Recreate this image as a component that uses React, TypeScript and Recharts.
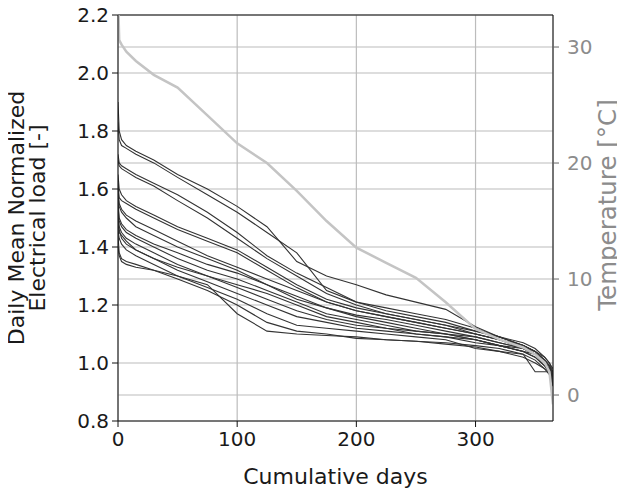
import React from 'react';
import { LineChart, Line, XAxis, YAxis, CartesianGrid, ReferenceLine, Label } from 'recharts';

const days = [0, 1, 3, 7, 15, 30, 50, 75, 100, 125, 150, 175, 200, 225, 250, 275, 300, 320, 340, 350, 358, 362, 365];

const temperature = [34.5, 30.6, 30.2, 29.6, 28.8, 27.6, 26.5, 24.1, 21.7, 20.0, 17.6, 15.0, 12.7, 11.4, 10.1, 8.0, 5.7, 4.8, 4.1, 3.5, 2.8, 2.0, -0.8];

const load01 = [1.90, 1.80, 1.77, 1.75, 1.73, 1.70, 1.65, 1.60, 1.54, 1.47, 1.35, 1.30, 1.27, 1.235, 1.21, 1.185, 1.125, 1.09, 1.06, 1.04, 1.01, 0.99, 0.95];
const load02 = [1.83, 1.77, 1.75, 1.74, 1.72, 1.69, 1.64, 1.58, 1.52, 1.45, 1.38, 1.25, 1.21, 1.19, 1.17, 1.15, 1.12, 1.09, 1.06, 1.03, 1.00, 0.98, 0.93];
const load03 = [1.72, 1.69, 1.68, 1.67, 1.65, 1.62, 1.58, 1.52, 1.45, 1.37, 1.31, 1.26, 1.21, 1.18, 1.16, 1.14, 1.11, 1.09, 1.06, 1.04, 1.01, 0.99, 0.96];
const load04 = [1.70, 1.68, 1.67, 1.66, 1.64, 1.61, 1.56, 1.50, 1.43, 1.36, 1.30, 1.24, 1.20, 1.17, 1.15, 1.13, 1.10, 1.08, 1.05, 1.03, 1.00, 0.98, 0.97];
const load05 = [1.65, 1.60, 1.58, 1.56, 1.54, 1.51, 1.47, 1.43, 1.39, 1.33, 1.27, 1.22, 1.19, 1.17, 1.15, 1.13, 1.11, 1.09, 1.07, 1.05, 1.02, 1.00, 0.98];
const load06 = [1.62, 1.57, 1.56, 1.55, 1.53, 1.50, 1.46, 1.42, 1.38, 1.32, 1.26, 1.21, 1.18, 1.16, 1.14, 1.12, 1.10, 1.08, 1.06, 1.04, 1.01, 0.99, 0.96];
const load07 = [1.60, 1.55, 1.53, 1.51, 1.49, 1.46, 1.42, 1.37, 1.33, 1.29, 1.25, 1.21, 1.18, 1.16, 1.14, 1.12, 1.10, 1.08, 1.06, 1.04, 1.02, 1.00, 0.97];
const load08 = [1.58, 1.54, 1.52, 1.50, 1.47, 1.44, 1.40, 1.36, 1.32, 1.27, 1.22, 1.19, 1.165, 1.15, 1.13, 1.11, 1.09, 1.07, 1.05, 1.03, 1.00, 0.98, 0.94];
const load09 = [1.56, 1.50, 1.48, 1.46, 1.44, 1.41, 1.38, 1.34, 1.31, 1.27, 1.23, 1.19, 1.16, 1.14, 1.12, 1.10, 1.08, 1.06, 1.04, 1.02, 0.99, 0.97, 0.92];
const load10 = [1.54, 1.49, 1.47, 1.45, 1.43, 1.40, 1.36, 1.32, 1.29, 1.25, 1.21, 1.17, 1.15, 1.13, 1.11, 1.10, 1.08, 1.06, 1.05, 1.03, 1.01, 0.99, 0.96];
const load11 = [1.50, 1.47, 1.45, 1.43, 1.41, 1.38, 1.34, 1.30, 1.26, 1.22, 1.18, 1.15, 1.13, 1.12, 1.10, 1.09, 1.08, 1.06, 1.04, 1.03, 1.00, 0.98, 0.95];
const load12 = [1.48, 1.45, 1.44, 1.42, 1.39, 1.36, 1.32, 1.28, 1.24, 1.20, 1.16, 1.14, 1.12, 1.11, 1.10, 1.09, 1.07, 1.06, 1.04, 1.02, 0.99, 0.97, 0.93];
const load13 = [1.46, 1.43, 1.41, 1.39, 1.37, 1.34, 1.30, 1.26, 1.22, 1.17, 1.13, 1.12, 1.11, 1.10, 1.09, 1.08, 1.05, 1.04, 1.03, 1.01, 0.98, 0.96, 0.92];
const load14 = [1.40, 1.37, 1.35, 1.34, 1.33, 1.32, 1.30, 1.27, 1.17, 1.11, 1.10, 1.095, 1.09, 1.08, 1.075, 1.065, 1.055, 1.04, 1.02, 1.00, 0.98, 0.97, 0.96];
const load15 = [1.44, 1.38, 1.36, 1.35, 1.34, 1.32, 1.29, 1.25, 1.20, 1.14, 1.11, 1.10, 1.085, 1.08, 1.075, 1.07, 1.06, 1.05, 1.03, 0.97, 0.97, 0.97, 0.96];
const load16 = [1.52, 1.46, 1.43, 1.41, 1.39, 1.36, 1.33, 1.30, 1.27, 1.24, 1.20, 1.16, 1.14, 1.12, 1.11, 1.10, 1.09, 1.07, 1.05, 1.03, 1.00, 0.98, 0.95];

const loadSeries = [load01, load02, load03, load04, load05, load06, load07, load08, load09, load10, load11, load12, load13, load14, load15, load16];

const xTicks = [0, 100, 200, 300];
const loadTicks = [0.8, 1.0, 1.2, 1.4, 1.6, 1.8, 2.0, 2.2];
const tempTicks = [0, 10, 20, 30];

const data = days.map((d, i) => {
  const row: Record<string, number> = { day: d, temp: temperature[i] };
  loadSeries.forEach((s, k) => {
    row['l' + k] = s[i];
  });
  return row;
});

const FONT = 'DejaVu Sans';
const GRID = '#bcbcbc';
const TEMP_TEXT = '#8c8c8c';

export default function App() {
  return (
    <div style={{ marginLeft: -8, marginTop: -8, width: 625, height: 495 }}>
      <LineChart width={625} height={495} data={data} margin={{ top: 15, right: 0, bottom: 0, left: 0 }}>
        <CartesianGrid yAxisId="left" xAxisId="x" stroke={GRID} strokeWidth={1.2} />
        {tempTicks.map((t) => (
          <ReferenceLine key={t} yAxisId="right" xAxisId="x" y={t} stroke={GRID} strokeWidth={1.2} />
        ))}
        <ReferenceLine yAxisId="left" xAxisId="x" y={2.2} stroke="#111" strokeWidth={1.2} />
        <XAxis
          xAxisId="x"
          dataKey="day"
          type="number"
          domain={[0, 365]}
          ticks={xTicks}
          allowDataOverflow
          height={74}
          stroke="#111"
          tickSize={6}
          tickMargin={5}
          tick={{ fill: '#1a1a1a', fontSize: 20, fontFamily: FONT }}
        >
          <Label
            content={(props: any) => {
              const vb = props.viewBox || { x: 118, y: 421, width: 435 };
              return (
                <text x={vb.x + vb.width / 2} y={vb.y + 63} textAnchor="middle" fontSize={22} fontFamily={FONT} fill="#1a1a1a">
                  Cumulative days
                </text>
              );
            }}
          />
        </XAxis>
        <YAxis
          yAxisId="left"
          orientation="left"
          type="number"
          domain={[0.8, 2.2]}
          ticks={loadTicks}
          allowDataOverflow
          width={118}
          stroke="#111"
          tickSize={6}
          tickMargin={3}
          tickFormatter={(v: number) => v.toFixed(1)}
          tick={{ fill: '#1a1a1a', fontSize: 20, fontFamily: FONT }}
        >
          <Label
            content={(props: any) => {
              const vb = props.viewBox || { x: 0, y: 15, width: 118, height: 406 };
              const cy = vb.y + vb.height / 2;
              return (
                <g>
                  <text x={24} y={cy} transform={`rotate(-90 24 ${cy})`} textAnchor="middle" fontSize={22} fontFamily={FONT} fill="#1a1a1a">
                    Daily Mean Normalized
                  </text>
                  <text x={45} y={cy} transform={`rotate(-90 45 ${cy})`} textAnchor="middle" fontSize={22} fontFamily={FONT} fill="#1a1a1a">
                    Electrical load [-]
                  </text>
                </g>
              );
            }}
          />
        </YAxis>
        <YAxis
          yAxisId="right"
          orientation="right"
          type="number"
          domain={[-2.24, 32.76]}
          ticks={tempTicks}
          allowDataOverflow
          width={72}
          axisLine={{ stroke: '#111' }}
          tickLine={{ stroke: '#666' }}
          tickSize={6}
          tickMargin={8}
          tick={{ fill: TEMP_TEXT, fontSize: 20, fontFamily: FONT }}
        >
          <Label
            content={(props: any) => {
              const vb = props.viewBox || { x: 553, y: 15, width: 72, height: 406 };
              const cx = vb.x + 63;
              const cy = 205;
              return (
                <text x={cx} y={cy} transform={`rotate(-90 ${cx} ${cy})`} textAnchor="middle" fontSize={24.5} fontFamily={FONT} fill={TEMP_TEXT}>
                  Temperature [°C]
                </text>
              );
            }}
          />
        </YAxis>
        {loadSeries.map((_, k) => (
          <Line
            key={k}
            xAxisId="x"
            yAxisId="left"
            dataKey={'l' + k}
            type="linear"
            stroke="#333333"
            strokeWidth={1.1}
            dot={false}
            activeDot={false}
            isAnimationActive={false}
          />
        ))}
        <Line
          xAxisId="x"
          yAxisId="right"
          dataKey="temp"
          type="linear"
          stroke="#c4c4c4"
          strokeWidth={2.5}
          dot={false}
          activeDot={false}
          isAnimationActive={false}
        />
      </LineChart>
    </div>
  );
}
